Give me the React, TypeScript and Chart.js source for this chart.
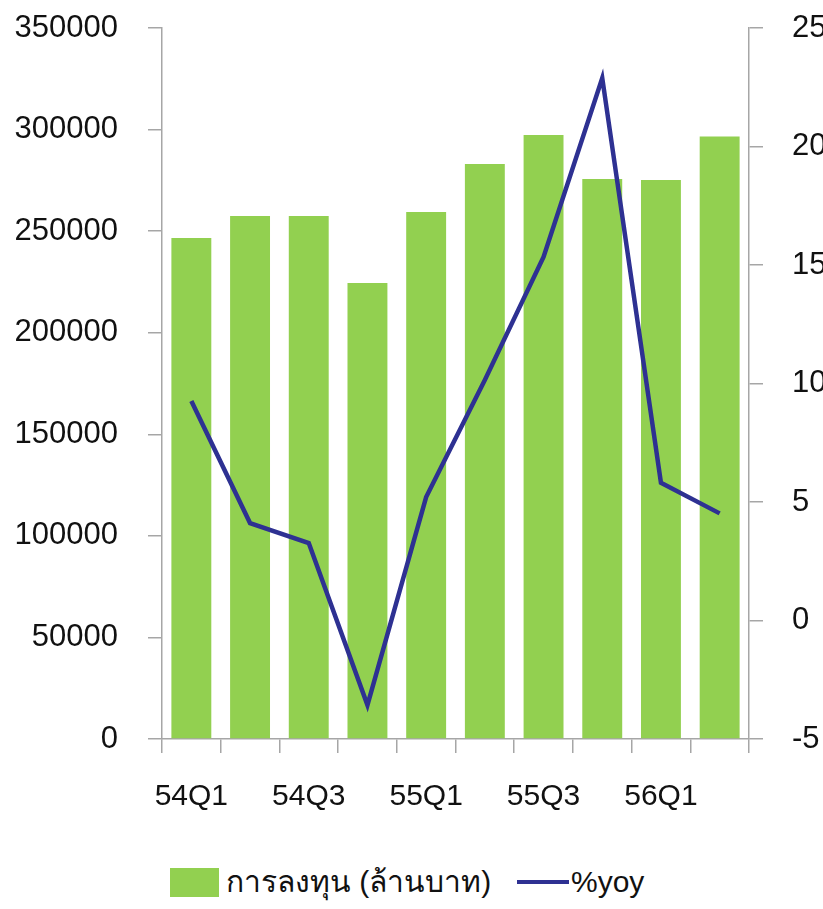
import React, { useEffect, useRef } from "react";
import { Chart, registerables } from "chart.js";

Chart.register(...registerables);

const categories = ["54Q1", "54Q2", "54Q3", "54Q4", "55Q1", "55Q2", "55Q3", "55Q4", "56Q1", "56Q2"];
const investment = [246600, 257400, 257400, 224500, 259400, 283000, 297300, 275700, 275200, 296600];
const yoy = [9.26, 4.11, 3.27, -3.57, 5.21, 10.15, 15.34, 22.89, 5.81, 4.52];
const shownLabels = ["54Q1", "54Q3", "55Q1", "55Q3", "56Q1"];
const barLabel = "การลงทุน (ล้านบาท)";
const lineLabel = "%yoy";

const FONT = "'Liberation Sans', Arial, sans-serif";
const GREEN = "#92D050";
const BLUE = "#2E3192";
const AXIS = "#A6A6A6";

const CW = 880;
const CH = 830;

export default function App() {
  const ref = useRef<HTMLCanvasElement | null>(null);

  useEffect(() => {
    if (!ref.current) return;
    const chart = new Chart(ref.current, {
      type: "bar",
      data: {
        labels: categories,
        datasets: [
          {
            type: "line",
            label: lineLabel,
            data: yoy,
            borderColor: BLUE,
            backgroundColor: BLUE,
            borderWidth: 4.5,
            pointRadius: 0,
            tension: 0,
            yAxisID: "y1",
            order: 1,
          },
          {
            type: "bar",
            label: barLabel,
            data: investment,
            backgroundColor: GREEN,
            borderWidth: 0,
            categoryPercentage: 1,
            barPercentage: 0.68,
            yAxisID: "y",
            order: 2,
          },
        ],
      },
      options: {
        responsive: false,
        animation: false,
        layout: { padding: { top: 28, left: 0, right: 0, bottom: 0 } },
        plugins: { legend: { display: false }, tooltip: { enabled: false } },
        scales: {
          x: {
            offset: true,
            grid: { offset: true, drawOnChartArea: false, drawTicks: true, tickLength: 14, color: AXIS, lineWidth: 1.5 },
            border: { display: true, color: AXIS, width: 1.5 },
            ticks: {
              autoSkip: false,
              maxRotation: 0,
              padding: 26,
              color: "#111",
              font: { family: FONT, size: 30 },
              callback: (_v: any, i: number) => (shownLabels.includes(categories[i]) ? categories[i] : ""),
            },
            afterFit: (s: any) => {
              s.height = CH - 739;
            },
          },
          y: {
            position: "left",
            min: 0,
            max: 350000,
            grid: { drawOnChartArea: false, drawTicks: true, tickLength: 14, color: AXIS, lineWidth: 1.5 },
            border: { display: true, color: AXIS, width: 1.5 },
            ticks: {
              stepSize: 50000,
              padding: 30,
              color: "#111",
              font: { family: FONT, size: 31 },
              callback: (v: any) => String(v),
            },
            afterFit: (s: any) => {
              s.width = 162;
              s.paddingTop = 0;
              s.paddingBottom = 0;
            },
          },
          y1: {
            position: "right",
            min: -5,
            max: 25,
            grid: { drawOnChartArea: false, drawTicks: true, tickLength: 14, color: AXIS, lineWidth: 1.5 },
            border: { display: true, color: AXIS, width: 1.5 },
            ticks: {
              stepSize: 5,
              padding: 29,
              color: "#111",
              font: { family: FONT, size: 31 },
              callback: (v: any) => String(v),
            },
            afterFit: (s: any) => {
              s.width = CW - 749;
              s.paddingTop = 0;
              s.paddingBottom = 0;
            },
          },
        },
      },
    });
    return () => chart.destroy();
  }, []);

  const textStyle: React.CSSProperties = {
    position: "absolute",
    fontFamily: FONT,
    fontSize: 30,
    color: "#111",
    lineHeight: "36px",
    whiteSpace: "nowrap",
  };

  return (
    <div style={{ position: "absolute", left: 0, top: 0, width: 823, height: 909, overflow: "hidden", background: "#fff" }}>
      <canvas ref={ref} width={CW} height={CH} style={{ position: "absolute", left: 0, top: 0, width: CW, height: CH }} />
      <div style={{ position: "absolute", left: 170, top: 868, width: 49, height: 29, background: GREEN }} />
      <div style={{ ...textStyle, left: 226, top: 864 }}>{barLabel}</div>
      <div style={{ position: "absolute", left: 517, top: 880, width: 52, height: 4, background: BLUE }} />
      <div style={{ ...textStyle, left: 571, top: 864 }}>{lineLabel}</div>
    </div>
  );
}
